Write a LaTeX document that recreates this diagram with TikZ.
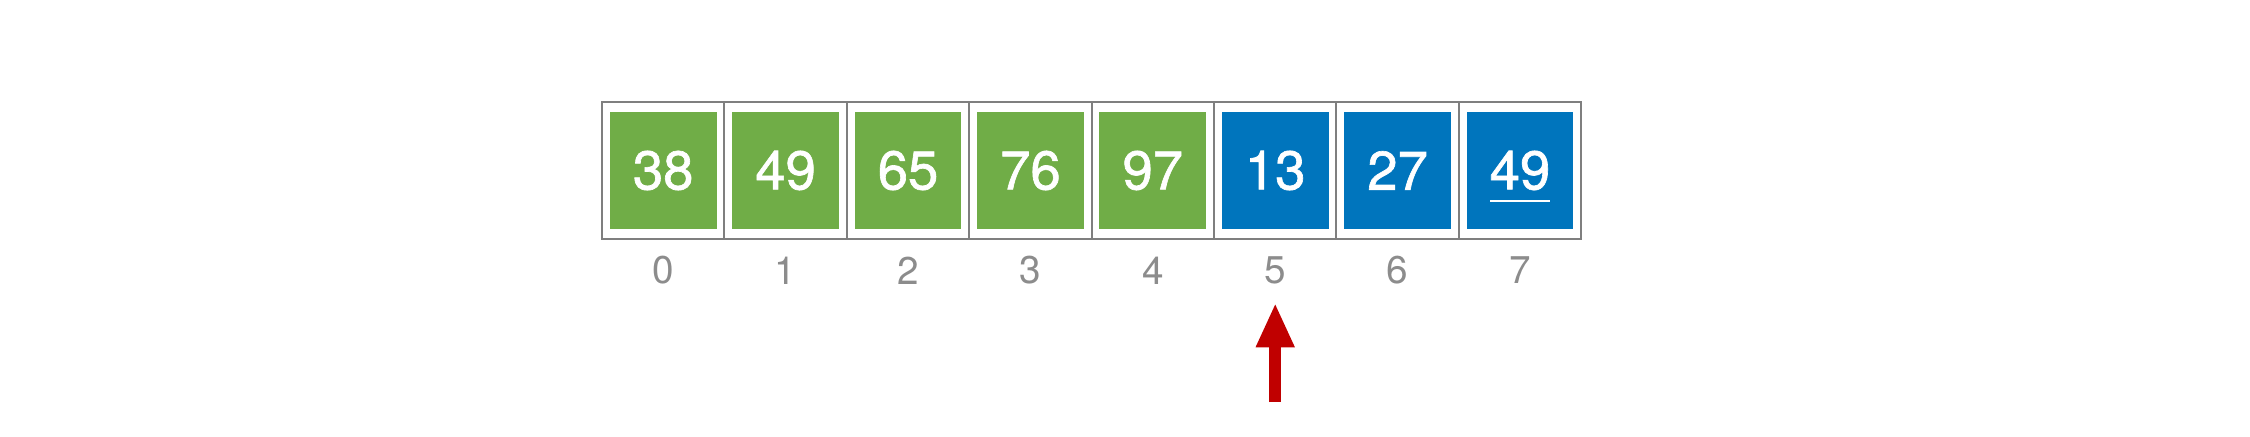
\documentclass[tikz,border=0pt]{standalone}
\usepackage{fontspec}
\setmainfont{TeX Gyre Heros}
\newfontfamily\keyfont[FakeBold=1.2]{TeX Gyre Heros}
\usetikzlibrary{positioning,arrows.meta}
\definecolor{cellgreen}{HTML}{70AD47}
\definecolor{cellblue}{HTML}{0075BD}
\definecolor{idxgray}{HTML}{8C8C8C}
\definecolor{framegray}{HTML}{7F7F7F}
\definecolor{ptrred}{HTML}{C00000}

\begin{document}
\begin{tikzpicture}[
    cell/.style = {draw = framegray, line width = 0.6pt, outer sep = 0pt, inner sep = 0pt, minimum width = 1.224cm, minimum height = 1.37cm},
    key/.style = {inner sep = 0pt, minimum width = 1.067cm, minimum height = 1.167cm, text = white, font = \keyfont\fontsize{15.5}{18}\selectfont},
    idx/.style = {inner sep = 0pt, text = idxgray, font = \fontsize{11}{13}\selectfont},
    pointer/.style = {draw = ptrred, line width = 0.117cm, -{Triangle[length = 0.444cm, width = 0.357cm]}}]
  \useasboundingbox (0,0) rectangle (22.5,-4.36);
  % array cells
  \node [cell] (c0) at (6.632,-1.705) {};
  \foreach \i [remember = \i as \j (initially 0)] in {1,...,7}
    \node [cell, right = 0pt of c\j] (c\i) {};
  % sorted part and the rest
  \foreach \v [count = \i from 0] in {38,49,65,76,97}
    \node [key, fill = cellgreen] (k\i) at (c\i) {\v};
  \foreach \v [count = \i from 5] in {13,27,49}
    \node [key, fill = cellblue] (k\i) at (c\i) {\v};
  \draw [white, line width = 0.65pt] ([xshift = -0.297cm, yshift = -0.307cm]k7.center) -- ([xshift = 0.297cm, yshift = -0.307cm]k7.center);
  % indices
  \foreach \i in {0,...,7}
    \node [idx] (i\i) at ([yshift = -1cm]c\i.center) {\i};
  % pointer
  \coordinate (tip) at ([yshift = -0.18cm]i5.south);
  \coordinate (tail) at ([yshift = -1.173cm]i5.south);
  \draw [pointer] (tail) -- (tip);
\end{tikzpicture}
\end{document}
